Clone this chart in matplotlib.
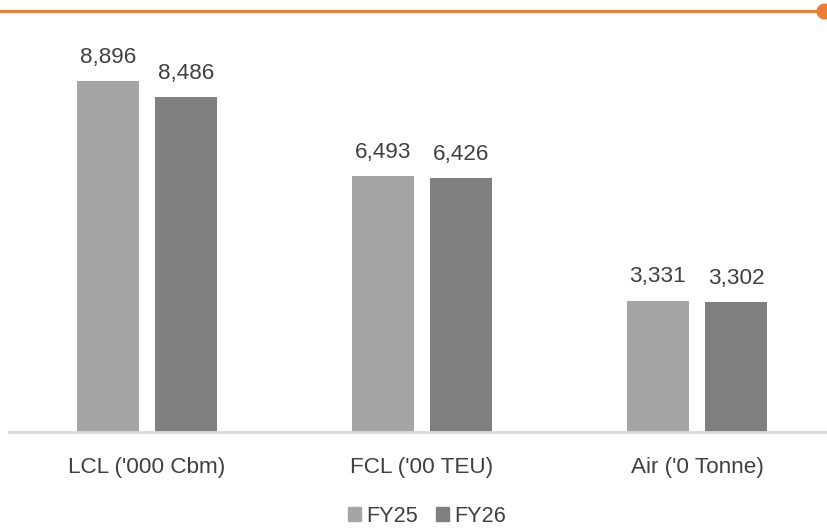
import matplotlib
matplotlib.use('Agg')
import matplotlib.pyplot as plt
from matplotlib.lines import Line2D
from matplotlib.patches import Patch
import numpy as np

# Data
categories = ["LCL ('000 Cbm)", "FCL ('00 TEU)", "Air ('0 Tonne)"]
fy25 = [8896, 6493, 3331]
fy26 = [8486, 6426, 3302]
series_names = ['FY25', 'FY26']

plt.rcParams['font.family'] = ['Liberation Sans', 'DejaVu Sans']
text_col = '#404040'
c25 = '#A5A5A5'
c26 = '#7F7F7F'
fs = 16.2

fig = plt.figure(figsize=(8.28, 5.31), dpi=100)
ax = fig.add_axes([9 / 828, 99 / 531, 818 / 828, 392 / 531])

x = np.arange(len(categories))
w = 0.2255
off = 0.1418
b1 = ax.bar(x - off, fy25, w, color=c25, label=series_names[0])
b2 = ax.bar(x + off, fy26, w, color=c26, label=series_names[1])

for bars, vals in [(b1, fy25), (b2, fy26)]:
    for b, v in zip(bars, vals):
        ax.annotate(f'{v:,}', (b.get_x() + b.get_width() / 2, v),
                    xytext=(0, 9.5), textcoords='offset points',
                    ha='center', va='bottom', fontsize=fs, color=text_col)

ax.set_xlim(-0.502, 2.473)
ax.set_ylim(0, 9935)
ax.set_xticks(x)
ax.set_xticklabels(categories, fontsize=fs, color=text_col)
ax.tick_params(axis='x', length=0, pad=18)
ax.set_yticks([])
for s in ['top', 'right', 'left']:
    ax.spines[s].set_visible(False)
ax.spines['bottom'].set_color('#D9D9D9')
ax.spines['bottom'].set_linewidth(2)

# legend
handles = [Patch(color=c25, label='FY25'), Patch(color=c26, label='FY26')]
fig.legend(handles=handles, loc='center', bbox_to_anchor=(427 / 828, 1 - 516 / 531),
           ncol=2, frameon=False, fontsize=15.6, handlelength=0.62, handleheight=0.62,
           handletextpad=0.25, columnspacing=0.8, labelcolor=text_col)

# orange header line with dot
yl = 1 - 11 / 531
fig.add_artist(Line2D([0, 824 / 828], [yl, yl], color='#ED7D31', lw=2.2))
fig.add_artist(Line2D([824 / 828], [yl], marker='o', markersize=10.5,
                      color='#ED7D31', lw=0))

fig.savefig('out.png', dpi=100)
